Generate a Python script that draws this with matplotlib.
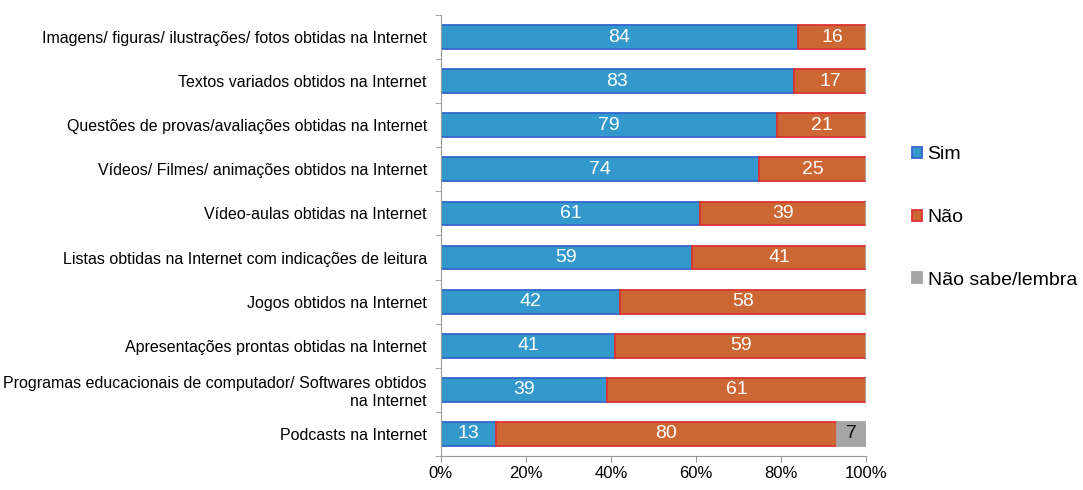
import numpy as np
import matplotlib
matplotlib.use('Agg')
import matplotlib.pyplot as plt

plt.rcParams['font.family'] = ['Liberation Sans', 'DejaVu Sans']

categories = [
    "Imagens/ figuras/ ilustrações/ fotos obtidas na Internet",
    "Textos variados obtidos na Internet",
    "Questões de provas/avaliações obtidas na Internet",
    "Vídeos/ Filmes/ animações obtidos na Internet",
    "Vídeo-aulas obtidas na Internet",
    "Listas obtidas na Internet com indicações de leitura",
    "Jogos obtidos na Internet",
    "Apresentações prontas obtidas na Internet",
    "Programas educacionais de computador/ Softwares obtidos\nna Internet",
    "Podcasts na Internet",
]
sim = [84, 83, 79, 74, 61, 59, 42, 41, 39, 13]
nao = [16, 17, 21, 25, 39, 41, 58, 59, 61, 80]
nao_sabe = [0, 0, 0, 0, 0, 0, 0, 0, 0, 7]
series_names = ["Sim", "Não", "Não sabe/lembra"]

fills = ["#3399cc", "#cc6633", "#a6a6a6"]
edges = ["#3366cc", "#dd3333", "#a6a6a6"]
text_colors = ["white", "white", "#111111"]

fig = plt.figure(figsize=(10.83, 4.9), dpi=100)
ax = fig.add_axes([0.407, 0.0694, 0.393, 0.9])

data = np.array([sim, nao, nao_sabe], dtype=float)
totals = data.sum(axis=0)
shares = data / totals * 100
y = np.arange(len(categories))
left = np.zeros(len(categories))
for i, name in enumerate(series_names):
    bars = ax.barh(y, shares[i], left=left, height=0.54, color=fills[i],
                   edgecolor=edges[i], linewidth=1.3, label=name)
    for b, v in zip(bars, data[i]):
        if v > 0:
            ax.text(b.get_x() + b.get_width() / 2, b.get_y() + b.get_height() / 2,
                    "%d" % v, ha='center', va='center', color=text_colors[i],
                    fontsize=14)
    left += shares[i]

ax.set_xlim(0, 100)
ax.set_ylim(len(categories) - 0.5, -0.5)
ax.set_yticks(y)
ax.set_yticklabels(categories, fontsize=11.5)
ax.tick_params(axis='y', length=0, pad=10)
ax.set_yticks(np.arange(-0.5, len(categories)), minor=True)
ax.tick_params(axis='y', which='minor', length=4, color='#999999')
ax.set_xticks(np.arange(0, 101, 20))
ax.set_xticklabels(["%d%%" % t for t in range(0, 101, 20)], fontsize=12)
ax.tick_params(axis='x', length=4, color='#999999')
for s in ['top', 'right']:
    ax.spines[s].set_visible(False)
for s in ['left', 'bottom']:
    ax.spines[s].set_color('#999999')

handles, labels = ax.get_legend_handles_labels()
leg = fig.legend(handles, labels, loc='center left', bbox_to_anchor=(0.826, 0.556),
                 frameon=False, fontsize=14, handlelength=0.5, handleheight=0.5,
                 handletextpad=0.3, labelspacing=2.35)

fig.savefig("out.png", dpi=100)
